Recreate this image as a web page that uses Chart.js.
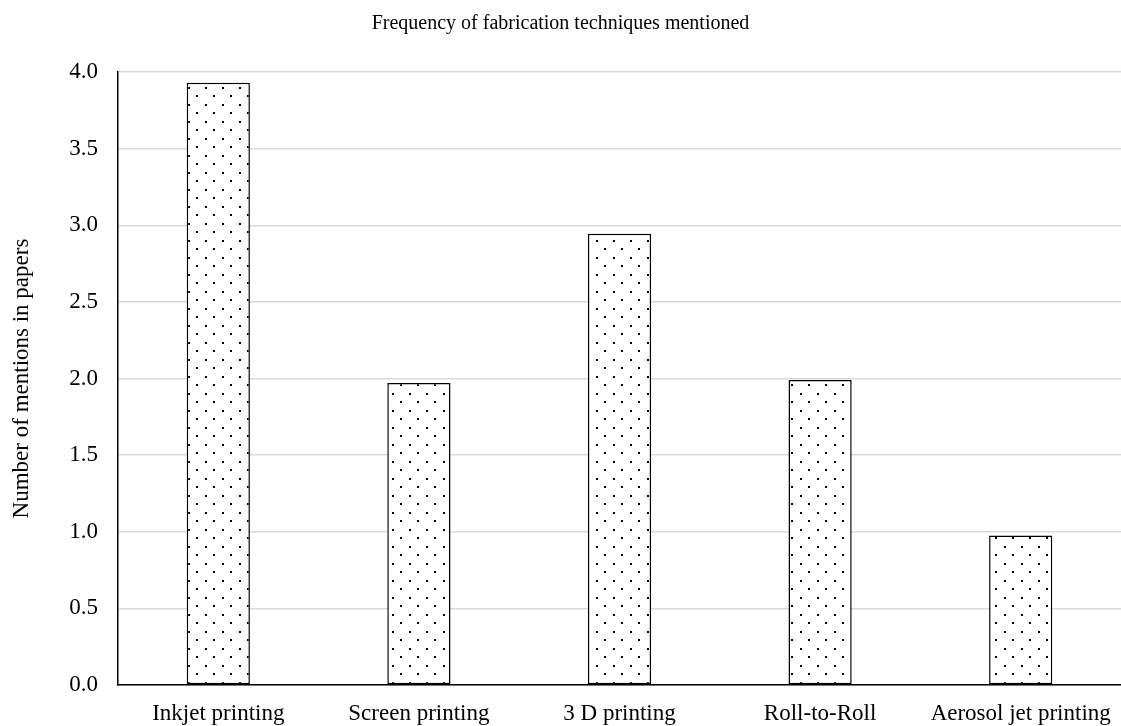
<!DOCTYPE html>
<html>
<head>
<meta charset="utf-8">
<script src="https://cdn.jsdelivr.net/npm/chart.js@4"></script>
<style>
html,body{margin:0;padding:0;background:#fff;}
#wrap{width:1121px;height:726px;position:relative;}
</style>
</head>
<body>
<div id="wrap"><canvas id="c" width="1121" height="726"></canvas></div>
<script>
const categories = ["Inkjet printing", "Screen printing", "3 D printing", "Roll-to-Roll", "Aerosol jet printing"];
const mentions = [3.93, 1.97, 2.945, 1.99, 0.975];
const yTicks = [0, 0.5, 1, 1.5, 2, 2.5, 3, 3.5, 4];

function dotPattern() {
  const p = document.createElement('canvas');
  p.width = 17; p.height = 17;
  const g = p.getContext('2d');
  g.fillStyle = '#fff';
  g.fillRect(0, 0, 17, 17);
  g.fillStyle = '#000';
  g.fillRect(1, 2, 2, 2);
  g.fillRect(9, 10, 2, 2);
  return document.getElementById('c').getContext('2d').createPattern(p, 'repeat');
}

const font = "'Liberation Serif', 'Times New Roman', serif";
new Chart(document.getElementById('c'), {
  type: 'bar',
  data: {
    labels: categories,
    datasets: [{
      data: mentions,
      backgroundColor: dotPattern(),
      borderColor: '#000',
      borderWidth: 1.5,
      borderSkipped: false,
      barPercentage: 0.315,
      categoryPercentage: 1
    }]
  },
  options: {
    responsive: false,
    animation: false,
    layout: { padding: { left: 0, right: 0, top: 0, bottom: 0 } },
    plugins: {
      legend: { display: false },
      tooltip: { enabled: false },
      title: {
        display: true,
        text: 'Frequency of fabrication techniques mentioned',
        color: '#000',
        font: { family: font, size: 20, weight: 'normal' },
        padding: { top: 12, bottom: 36 }
      }
    },
    scales: {
      x: {
        grid: { display: false, drawTicks: false },
        border: { color: '#000', width: 1.5 },
        ticks: { color: '#000', font: { family: font, size: 23 }, padding: 15, maxRotation: 0 },
        afterFit: (s) => { s.height = 41; s.paddingLeft = 0; s.paddingRight = 0; }
      },
      y: {
        min: 0, max: 4,
        afterBuildTicks: (s) => { s.ticks = yTicks.map(v => ({ value: v })); },
        grid: { color: '#d9d9d9', lineWidth: 1.5, drawTicks: false },
        border: { color: '#000', width: 1.5 },
        ticks: { color: '#000', font: { family: font, size: 23 }, padding: 20,
          callback: (v) => Number(v).toFixed(1) },
        title: { display: true, text: 'Number of mentions in papers', color: '#000',
          font: { family: font, size: 23 }, padding: { top: 8, bottom: 0 } },
        afterFit: (s) => { s.width = 118; s.paddingTop = 0; s.paddingBottom = 0; }
      }
    }
  }
});
</script>
</body>
</html>
